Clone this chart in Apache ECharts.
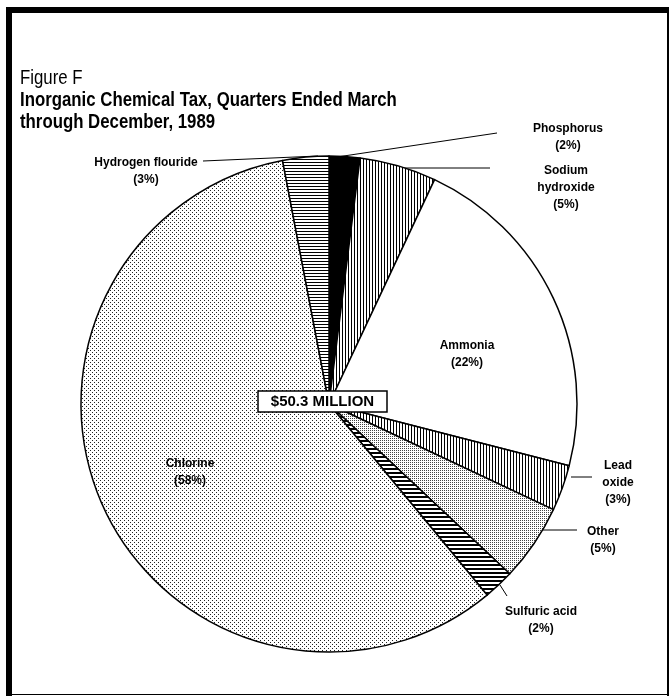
<!DOCTYPE html>
<html>
<head>
    <title>Inorganic Chemical Tax</title>
    <meta charset="utf-8">
    <script type="text/javascript" src="https://cdn.jsdelivr.net/npm/echarts@6.0.0/dist/echarts.min.js"></script>
</head>
<body style="margin:0;background:#fff">
    <div id="chart" style="width:671px;height:696px;"></div>
    <script>
        const categories = ['Phosphorus', 'Sodium hydroxide', 'Ammonia', 'Lead oxide', 'Other', 'Sulfuric acid', 'Chlorine', 'Hydrogen flouride'];
        const shares = [2, 5, 22, 3, 5, 2, 58, 3];
        const labelText = ['Phosphorus', 'Sodium\nhydroxide', 'Ammonia', 'Lead\noxide', 'Other', 'Sulfuric acid', 'Chlorine', 'Hydrogen flouride'];
        const titleLines = ['Figure F', 'Inorganic Chemical Tax, Quarters Ended March', 'through December, 1989'];
        const totalText = '$50.3 MILLION';

        // label spots (centre of text block) and leader lines
        const labelPos = {
            'Phosphorus': [568, 137],
            'Sodium hydroxide': [566, 188],
            'Ammonia': [467, 354],
            'Lead oxide': [618, 483],
            'Other': [603, 540],
            'Sulfuric acid': [541, 620],
            'Chlorine': [190, 472],
            'Hydrogen flouride': [146, 171]
        };
        const leaders = {
            'Phosphorus': [[337, 157], [497, 133]],
            'Sodium hydroxide': [[398, 168], [490, 168]],
            'Lead oxide': [[571, 477], [592, 477]],
            'Other': [[539, 530], [577, 530]],
            'Sulfuric acid': [[500, 585], [507, 596]],
            'Hydrogen flouride': [[318, 156], [203, 161]]
        };

        function pat(w, h, draw) {
            const c = document.createElement('canvas');
            c.width = w; c.height = h;
            const g = c.getContext('2d');
            g.fillStyle = '#fff'; g.fillRect(0, 0, w, h);
            g.fillStyle = '#000';
            draw(g);
            return { image: c, repeat: 'repeat' };
        }
        const fills = {
            'Phosphorus': '#000',
            'Sodium hydroxide': pat(3, 1, g => g.fillRect(0, 0, 1, 1)),
            'Ammonia': '#fff',
            'Lead oxide': pat(3, 1, g => g.fillRect(0, 0, 1, 1)),
            'Other': pat(2, 2, g => { g.fillStyle = '#444'; g.fillRect(0, 0, 1, 1); }),
            'Sulfuric acid': pat(1, 4, g => g.fillRect(0, 0, 1, 2)),
            'Chlorine': pat(4, 4, g => { g.fillStyle = '#222'; g.fillRect(0, 0, 1, 1); g.fillRect(2, 2, 1, 1); }),
            'Hydrogen flouride': pat(1, 3, g => g.fillRect(0, 0, 1, 1))
        };

        const chart = echarts.init(document.getElementById('chart'));
        const font = "'Liberation Sans', Arial, sans-serif";

        const titleGraphics = titleLines.map((t, i) => ({
            type: 'text',
            x: 20, y: 68 + i * 22,
            scaleX: 0.84,
            style: {
                text: t, fill: '#000',
                font: (i === 0 ? '' : 'bold ') + '20px ' + font,
                verticalAlign: 'top'
            }
        }));

        chart.setOption({
            animation: false,
            series: [{
                type: 'pie',
                center: [329, 404],
                radius: 248,
                startAngle: 90,
                clockwise: true,
                silent: true,
                itemStyle: { borderColor: '#000', borderWidth: 1.5 },
                label: {
                    show: true,
                    formatter: p => labelText[p.dataIndex] + '\n(' + p.value + '%)',
                    fontFamily: font,
                    fontWeight: 'bold',
                    fontSize: 12,
                    lineHeight: 17,
                    color: '#000',
                    align: 'center'
                },
                labelLine: { show: true, lineStyle: { color: '#000', width: 1 } },
                labelLayout: p => {
                    const name = categories[p.dataIndex];
                    const pos = labelPos[name];
                    const out = { x: pos[0], y: pos[1], align: 'center', verticalAlign: 'middle' };
                    if (leaders[name]) out.labelLinePoints = leaders[name];
                    return out;
                },
                data: categories.map((c, i) => ({
                    name: c,
                    value: shares[i],
                    itemStyle: { color: fills[c] },
                    label: leaders[c] ? {} : { position: 'inside' },
                    labelLine: { show: !!leaders[c] }
                }))
            }],
            graphic: titleGraphics.concat([
                { type: 'rect', shape: { x: 6, y: 7, width: 6, height: 689 }, style: { fill: '#000' } },
                { type: 'rect', shape: { x: 6, y: 7, width: 663, height: 6 }, style: { fill: '#000' } },
                { type: 'rect', shape: { x: 667, y: 7, width: 2, height: 689 }, style: { fill: '#000' } },
                { type: 'rect', shape: { x: 6, y: 694, width: 663, height: 1 }, style: { fill: '#000' } },
                {
                    type: 'rect', z: 100,
                    shape: { x: 258, y: 391, width: 129, height: 21 },
                    style: { fill: '#fff', stroke: '#000', lineWidth: 1.5 }
                },
                {
                    type: 'text', z: 101,
                    x: 322.5, y: 402,
                    style: {
                        text: totalText, fill: '#000',
                        font: 'bold 15px ' + font,
                        align: 'center', verticalAlign: 'middle'
                    }
                }
            ])
        });
    </script>
</body>
</html>
